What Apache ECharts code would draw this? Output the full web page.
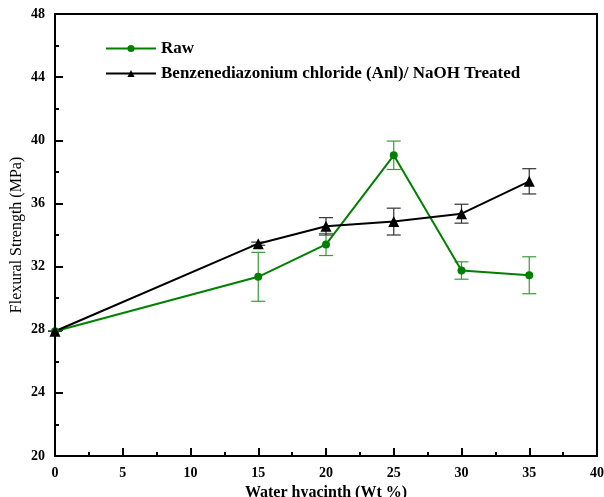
<!DOCTYPE html>
<html>
<head>
<meta charset="utf-8">
<script src="https://cdn.jsdelivr.net/npm/echarts@6/dist/echarts.min.js"></script>
<style>
  html, body { margin: 0; padding: 0; background: #fff; }
  #chart { width: 604px; height: 497px; }
</style>
</head>
<body>
<div id="chart"></div>
<script>
// wt % of water hyacinth
const loadings = [0, 15, 20, 25, 30, 35]
const rawMean = [27.9, 31.35, 33.4, 39.05, 31.75, 31.45]
const rawErr = [0, 1.55, 0.7, 0.9, 0.55, 1.17]
const treatedMean = [27.9, 33.45, 34.55, 34.85, 35.35, 37.4]
const treatedErr = [0, 0.1, 0.55, 0.85, 0.6, 0.8]
const xTicks = [0, 5, 10, 15, 20, 25, 30, 35, 40]
const yTicks = [20, 24, 28, 32, 36, 40, 44, 48]

const rawName = 'Raw'
const treatedName = 'Benzenediazonium chloride (Anl)/ NaOH Treated'

const pairs = (ys) => loadings.map((x, i) => [x, ys[i]])
const bars = (ys, es) => loadings.map((x, i) => [x, ys[i] - es[i], ys[i] + es[i]])

const errorBar = (color) => (params, api) => {
  const x = api.value(0)
  const lo = api.coord([x, api.value(1)])
  const hi = api.coord([x, api.value(2)])
  const w = 7
  const style = { stroke: color, lineWidth: 1.2, fill: null }
  return {
    type: 'group',
    children: [
      { type: 'line', shape: { x1: lo[0], y1: lo[1], x2: hi[0], y2: hi[1] }, style },
      { type: 'line', shape: { x1: lo[0] - w, y1: lo[1], x2: lo[0] + w, y2: lo[1] }, style },
      { type: 'line', shape: { x1: hi[0] - w, y1: hi[1], x2: hi[0] + w, y2: hi[1] }, style }
    ]
  }
}

const font = 'Liberation Serif'
const chart = echarts.init(document.getElementById('chart'))

chart.setOption({
  animation: false,
  backgroundColor: '#fff',
  textStyle: { fontFamily: font },
  grid: {
    left: 55, right: 7, top: 14, bottom: 41,
    outerBoundsMode: 'none', containLabel: false,
    show: true, borderColor: '#000', borderWidth: 2
  },
  legend: {
    left: 100, top: 35, orient: 'vertical',
    itemWidth: 50, itemHeight: 9, itemGap: 8,
    data: [rawName, treatedName],
    textStyle: { fontFamily: font, fontWeight: 'bold', fontSize: 17, color: '#000' }
  },
  xAxis: {
    type: 'value', min: 0, max: 40, interval: 5,
    name: 'Water hyacinth (Wt %)', nameLocation: 'middle', nameGap: 29,
    nameTextStyle: { fontFamily: font, fontWeight: 'bold', fontSize: 16, color: '#000' },
    axisLine: { lineStyle: { color: '#000', width: 2 } },
    axisTick: { inside: true, length: 8, lineStyle: { color: '#000', width: 2 } },
    minorTick: { show: true, splitNumber: 2, length: 4, lineStyle: { color: '#000', width: 2 } },
    axisLabel: {
      fontFamily: font, fontWeight: 'bold', fontSize: 14, color: '#000', margin: 10,
      formatter: (v) => xTicks.includes(v) ? String(v) : ''
    },
    splitLine: { show: false }
  },
  yAxis: {
    type: 'value', min: 20, max: 48, interval: 4,
    name: 'Flexural Strength (MPa)', nameLocation: 'middle', nameGap: 30,
    nameMoveOverlap: false,
    nameTextStyle: { fontFamily: font, fontSize: 16, color: '#000' },
    axisLine: { lineStyle: { color: '#000', width: 2 } },
    axisTick: { inside: true, length: 8, lineStyle: { color: '#000', width: 2 } },
    minorTick: { show: true, splitNumber: 2, length: 4, lineStyle: { color: '#000', width: 2 } },
    axisLabel: {
      fontFamily: font, fontWeight: 'bold', fontSize: 14, color: '#000', margin: 10,
      formatter: (v) => yTicks.includes(v) ? String(v) : ''
    },
    splitLine: { show: false }
  },
  series: [
    {
      type: 'custom', name: 'rawErr', silent: true, z: 1,
      renderItem: errorBar('#3a9a3a'),
      encode: { x: 0, y: [1, 2] },
      data: bars(rawMean, rawErr)
    },
    {
      type: 'custom', name: 'treatedErr', silent: true, z: 1,
      renderItem: errorBar('#333'),
      encode: { x: 0, y: [1, 2] },
      data: bars(treatedMean, treatedErr)
    },
    {
      name: rawName, type: 'line', z: 3,
      data: pairs(rawMean),
      symbol: 'circle', symbolSize: 8,
      lineStyle: { color: '#008000', width: 2 },
      itemStyle: { color: '#008000' }
    },
    {
      name: treatedName, type: 'line', z: 3,
      data: pairs(treatedMean),
      symbol: 'triangle', symbolSize: 11,
      lineStyle: { color: '#000', width: 2 },
      itemStyle: { color: '#000' }
    }
  ]
})
</script>
</body>
</html>
